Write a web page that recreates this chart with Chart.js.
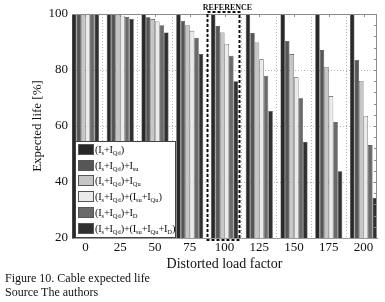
<!DOCTYPE html>
<html>
<head>
<meta charset="utf-8">
<script src="https://cdn.jsdelivr.net/npm/chart.js@4.4.0/dist/chart.umd.min.js"></script>
<style>
  html, body { margin: 0; padding: 0; background: #fff; }
  #wrap { position: relative; width: 385px; height: 302px; font-family: "Liberation Serif", serif; }
  #legend { position: absolute; left: 75px; top: 141px; width: 101px; height: 97px; background: #fff;
            border: 1px solid #444; box-sizing: border-box; font-size: 10.5px; color: #111; letter-spacing: -0.3px; }
  .row { position: absolute; left: 2px; height: 12px; display: flex; align-items: center; white-space: nowrap; }
  .sw { width: 16px; height: 11px; margin-right: 1px; border: 1px solid #555; box-sizing: border-box; flex: none; }
  sub { font-size: 6.5px; vertical-align: -2px; line-height: 0; letter-spacing: 0; }
  #caption { position: absolute; left: 5px; top: 271px; font-size: 12px; line-height: 14px; color: #111; }
</style>
</head>
<body>
<div id="wrap">
  <canvas id="chart" width="385" height="302"></canvas>
  <div id="legend"></div>
  <div id="caption">Figure 10. Cable expected life<br>Source The authors</div>
</div>
<script>
// distorted load factor (x) and expected life [%] per harmonic case
const loadFactors = [0, 25, 50, 75, 100, 125, 150, 175, 200];
const yTicks = [20, 40, 60, 80, 100];

const base     = [100, 100, 100,  100,  100,  100,  100,  100,  100];
const withSu   = [100, 100, 98.8, 97.5, 95.7, 93.2, 90.4, 87.1, 83.6];
const withQu   = [100, 99.8, 98.2, 96,  93.4, 89.8, 85.7, 81.1, 76.1];
const withSuQu = [100, 99.4, 97.3, 94,  89.3, 83.8, 77.4, 70.7, 63.6];
const withD    = [100, 98.9, 96,  91.5, 85.1, 77.9, 69.9, 61.4, 53.2];
const withAll  = [100, 98.2, 93.4, 85.7, 76,  65.4, 54.4, 43.8, 34.4];

const seriesNames = [
    '(I<sub>s</sub>+I<sub>Qd</sub>)',
    '(I<sub>s</sub>+I<sub>Qd</sub>)+I<sub>su</sub>',
    '(I<sub>s</sub>+I<sub>Qd</sub>)+I<sub>Qu</sub>',
    '(I<sub>s</sub>+I<sub>Qd</sub>)+(I<sub>su</sub>+I<sub>Qu</sub>)',
    '(I<sub>s</sub>+I<sub>Qd</sub>)+I<sub>D</sub>',
    '(I<sub>s</sub>+I<sub>Qd</sub>)+(I<sub>su</sub>+I<sub>Qu</sub>+I<sub>D</sub>)'
];
const seriesValues = [base, withSu, withQu, withSuQu, withD, withAll];
const seriesColors = ['#282828', '#565656', '#c6c6c6', '#ebebeb', '#6a6a6a', '#303030'];

const datasets = seriesValues.map((vals, i) => ({
    label: seriesNames[i].replace(/<\/?sub>/g, ''),
    data: loadFactors.map((x, j) => ({ x: x, y: vals[j] })),
    backgroundColor: seriesColors[i]
}));

// legend with subscripts
const legendEl = document.getElementById('legend');
seriesNames.forEach((name, i) => {
    const row = document.createElement('div');
    row.className = 'row';
    row.style.top = (1.5 + 15.7 * i) + 'px';
    row.innerHTML = '<span class="sw" style="background:' + seriesColors[i] + '"></span><span>' + name + '</span>';
    legendEl.appendChild(row);
});

const serif = "'Liberation Serif', 'Times New Roman', serif";

// box, minor ticks and the dashed REFERENCE frame
const framePlugin = {
    id: 'frame',
    afterDatasetsDraw(chart) {
        const { ctx, chartArea: a, scales: { x, y } } = chart;
        ctx.save();
        ctx.strokeStyle = '#8a8a8a';
        ctx.lineWidth = 1;
        ctx.beginPath();
        ctx.moveTo(a.left, a.top + 0.5); ctx.lineTo(a.right, a.top + 0.5);
        ctx.moveTo(a.right - 0.5, a.top); ctx.lineTo(a.right - 0.5, a.bottom);
        for (let v = 24; v < 100; v += 4) {
            const py = Math.round(y.getPixelForValue(v)) + 0.5;
            ctx.moveTo(a.right, py); ctx.lineTo(a.right - 3, py);
        }
        loadFactors.forEach(v => {
            const px = Math.round(x.getPixelForValue(v)) + 0.5;
            ctx.moveTo(px, a.top); ctx.lineTo(px, a.top + 3);
        });
        ctx.stroke();

        const cx = x.getPixelForValue(100);
        ctx.strokeStyle = '#111';
        ctx.lineWidth = 2;
        ctx.setLineDash([3, 2]);
        ctx.strokeRect(cx - 17, a.top - 2, 32, a.bottom - a.top + 4);
        ctx.setLineDash([]);
        ctx.fillStyle = '#111';
        ctx.font = "bold 8px " + serif;
        ctx.textAlign = 'center';
        ctx.textBaseline = 'middle';
        ctx.fillText('REFERENCE', cx + 3, a.top - 6);
        ctx.restore();
    }
};

new Chart(document.getElementById('chart'), {
    type: 'bar',
    data: { datasets: datasets },
    plugins: [framePlugin],
    options: {
        responsive: false,
        animation: false,
        layout: { padding: { left: 0, right: 8, top: 14, bottom: 32 } },
        datasets: { bar: { categoryPercentage: 0.78, barPercentage: 1, borderWidth: 0.6, borderColor: '#3a3a3a' } },
        plugins: { legend: { display: false }, tooltip: { enabled: false } },
        scales: {
            x: {
                type: 'linear', min: -9.7, max: 209.7, offset: false,
                afterBuildTicks: s => { s.ticks = loadFactors.map(v => ({ value: v })); },
                afterFit: s => { s.height = 32; },
                ticks: { padding: 2, color: '#111', font: { family: serif, size: 13 } },
                grid: { color: '#b5b5b5', drawTicks: false },
                border: { color: '#9a9a9a', width: 1, dash: [1, 2] },
                title: { display: true, text: 'Distorted load factor', color: '#111',
                         font: { family: serif, size: 14 }, padding: { top: 0, bottom: -3 } }
            },
            y: {
                min: 20, max: 100,
                afterBuildTicks: s => { s.ticks = yTicks.map(v => ({ value: v })); },
                afterFit: s => { s.width = 72; },
                ticks: { padding: 4, color: '#111', font: { family: serif, size: 13 } },
                grid: { color: '#b5b5b5', drawTicks: false },
                border: { color: '#8a8a8a', width: 1, dash: [1, 2] },
                title: { display: true, text: 'Expected life [%]', color: '#111',
                         font: { family: serif, size: 13 }, padding: { top: 30, bottom: 0 } }
            }
        }
    }
});
</script>
</body>
</html>
